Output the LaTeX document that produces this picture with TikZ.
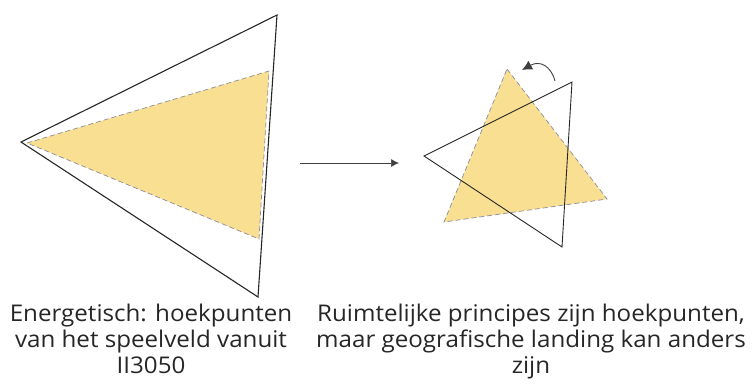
\documentclass[tikz,border=0pt]{standalone}
\usepackage{fontspec}
\setmainfont{Open Sans}
\usetikzlibrary{arrows.meta, positioning}
\definecolor{vlak}{HTML}{F8DF91}
\definecolor{rand}{HTML}{8C8C9C}

\begin{document}
\begin{tikzpicture}[x=1pt, y=-1pt,
        arr/.style={-{Latex[length=8pt, width=8pt]}, line width=0.7pt, black!75},
        veld/.style={draw=rand, dashed, dash pattern=on 5pt off 3pt, line width=0.7pt},
        kader/.style={draw=black!85, line width=1.1pt, line join=miter},
        uitleg/.style={font=\addfontfeatures{FakeStretch=1.05}\fontsize{23}{26}\selectfont,
                       align=center, text=black!85, inner sep=0pt}
      ]
      \useasboundingbox (0,0) rectangle (752,383);
      % links: speelveld
      \coordinate (l1) at (21,142);
      \coordinate (l2) at (277,15);
      \coordinate (l3) at (258,297);
      \coordinate (g1) at (27,143);
      \coordinate (g2) at (269,71);
      \coordinate (g3) at (259,239);
      \fill[vlak] (g1) -- (g2) -- (g3) -- cycle;
      \draw[veld] (g1) -- (g2) -- (g3) -- cycle;
      \draw[kader] (l1) -- (l2) -- (l3) -- cycle;
      % rechts: gedraaid
      \coordinate (r1) at (507,69);
      \coordinate (r2) at (607,199);
      \coordinate (r3) at (444,222);
      \coordinate (k1) at (424,156);
      \coordinate (k2) at (572,82);
      \coordinate (k3) at (562,247);
      \fill[vlak] (r1) -- (r2) -- (r3) -- cycle;
      \draw[veld] (r1) -- (r2) -- (r3) -- cycle;
      \draw[kader, line width=0.9pt] (k1) -- (k2) -- (k3) -- cycle;
      \coordinate (d1) at (555,81);
      \coordinate (d2) at (522,70);
      \draw[arr, line width=0.9pt, -{Latex[length=10pt, width=10pt]}]
        (d1) .. controls (551,66) and (540,60) .. (d2);
      % pijl
      \coordinate (p1) at (300,163);
      \coordinate (p2) at (399,163);
      \draw[arr] (p1) -- (p2);
      % teksten
      \node[uitleg] (tl) at (151,339) {Energetisch: hoekpunten\\van het speelveld vanuit\\II3050};
      \node[uitleg] (tr) at (531,342) {Ruimtelijke principes zijn hoekpunten,\\maar geografische landing kan anders\\zijn};
    \end{tikzpicture}
\end{document}
